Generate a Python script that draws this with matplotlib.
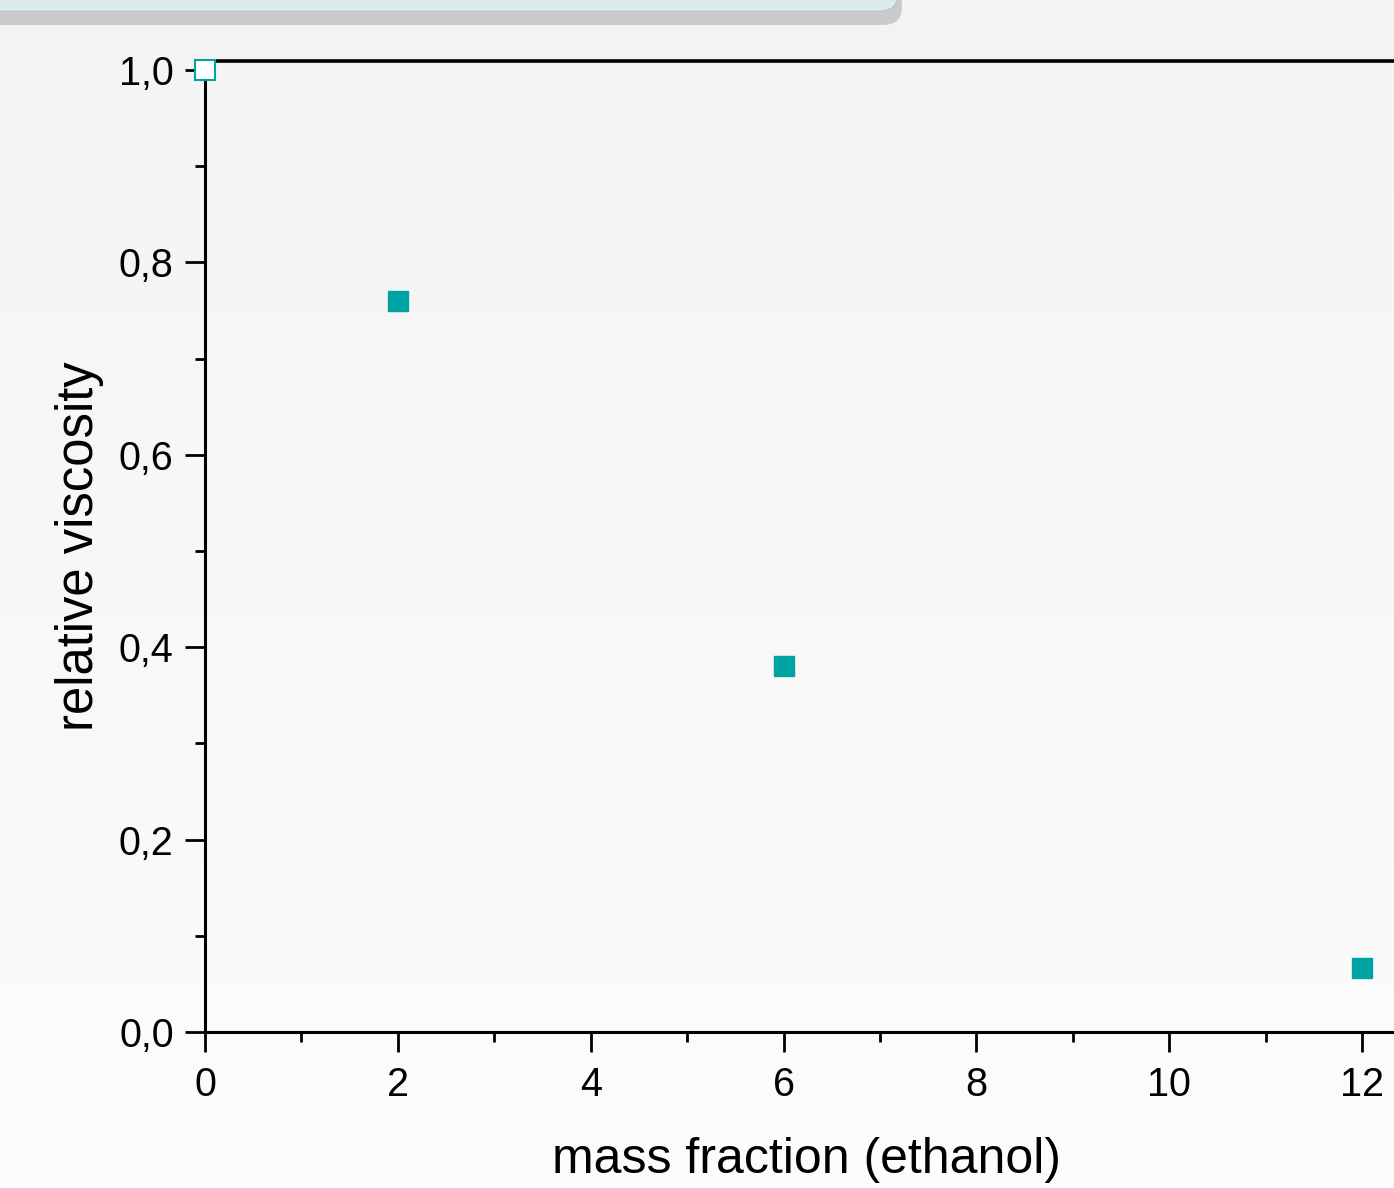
import numpy as np
import matplotlib.pyplot as plt
from matplotlib.patches import FancyBboxPatch
from matplotlib.ticker import MultipleLocator, FuncFormatter

plt.rcParams['font.family'] = ['Liberation Sans', 'DejaVu Sans']

# data
mass_fraction = [2, 6, 12]
rel_viscosity = [0.76, 0.38, 0.067]
ref_x = [0]
ref_y = [1.0]

teal = '#00a3a3'

fig = plt.figure(figsize=(13.94, 11.88), dpi=100)

# background gradient (light grey at top -> white at bottom)
bg = fig.add_axes([0, 0, 1, 1], zorder=-10)
grad = np.linspace(0, 1, 256).reshape(-1, 1)
bg.imshow(grad, aspect='auto', cmap='Greys_r', vmin=-12, vmax=1.3,
          extent=[0, 1, 0, 1], origin='upper')
bg.set_axis_off()

# rounded panel at the top edge
shadow = FancyBboxPatch((-0.05, 0.979), 0.697, 0.08,
                        boxstyle='round,pad=0,rounding_size=0.014',
                        transform=fig.transFigure, fc='#9a9a9a', ec='none',
                        alpha=0.45, zorder=-5)
panel = FancyBboxPatch((-0.05, 0.9905), 0.694, 0.08,
                       boxstyle='round,pad=0,rounding_size=0.014',
                       transform=fig.transFigure, fc='#dcecec', ec='#b8c8c8',
                       lw=1, zorder=-4)
fig.patches.extend([shadow, panel])

ax = fig.add_axes([205 / 1394, 156 / 1188, 1189 / 1394, 971 / 1188])
ax.patch.set_alpha(0)

ax.plot(mass_fraction, rel_viscosity, 's', color=teal, ms=14.5,
        mec=teal, clip_on=False, zorder=5)
ax.plot(ref_x, ref_y, 's', mfc='white', mec=teal, mew=1.5, ms=14.5,
        clip_on=False, zorder=5)

ax.set_xlim(0, 12.33)
ax.set_ylim(0, 1.0094)

ax.xaxis.set_major_locator(MultipleLocator(2))
ax.xaxis.set_minor_locator(MultipleLocator(1))
ax.yaxis.set_major_locator(MultipleLocator(0.2))
ax.yaxis.set_minor_locator(MultipleLocator(0.1))
ax.yaxis.set_major_formatter(FuncFormatter(lambda v, p: f'{v:.1f}'.replace('.', ',')))

ax.tick_params(which='major', direction='out', length=14.5, width=2,
               labelsize=28.5, colors='black')
ax.tick_params(axis='x', which='major', pad=10)
ax.tick_params(axis='y', which='major', pad=8)
ax.tick_params(which='minor', direction='out', length=7.5, width=2)

for side in ['left', 'bottom']:
    ax.spines[side].set_linewidth(2.2)
ax.spines['top'].set_linewidth(2.6)
ax.spines['right'].set_visible(False)

ax.set_xlabel('mass fraction (ethanol)', fontsize=36)
ax.set_ylabel('relative viscosity', fontsize=36.5)
ax.xaxis.set_label_coords((807 - 205) / 1189, -(1160 - 1032) / 971)
ax.xaxis.label.set_va('center')
ax.yaxis.set_label_coords(-(205 - 80) / 1189, (1032 - 546) / 971)
ax.yaxis.label.set_va('center')

fig.savefig('out.png', dpi=100)
